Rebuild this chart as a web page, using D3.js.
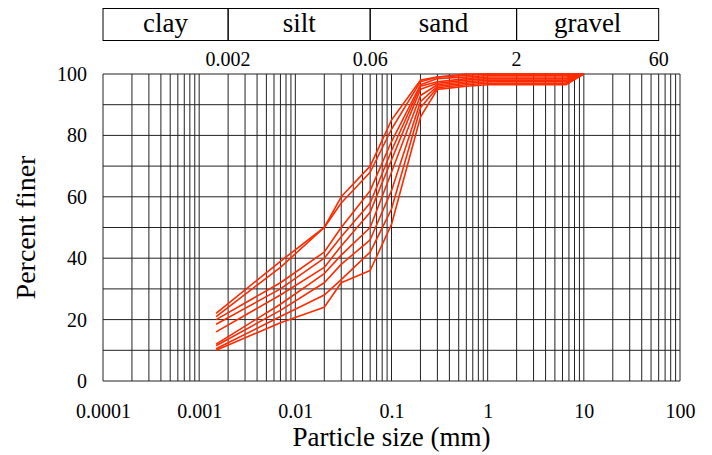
<!DOCTYPE html>
<html>
<head>
<meta charset="utf-8">
<script src="https://cdn.jsdelivr.net/npm/d3@7"></script>
<style>
  body { margin: 0; background: #fff; }
  text { font-family: "Liberation Serif", "DejaVu Serif", serif; fill: #000; }
</style>
</head>
<body>
<div id="chart"></div>
<script>

/// data

// particle sizes (mm) where the curves have their points
const sizes = [0.0015, 0.007, 0.02, 0.03, 0.06, 0.1, 0.2, 0.3, 0.6, 1, 6.5, 10];

// percent finer, one array per sample
const s1 = [22, 39, 50, 60, 70, 85, 98, 99, 100, 100, 100, 100];
const s2 = [21, 37, 50, 58, 68, 82, 97.5, 99, 99.5, 100, 100, 100];
const s3 = [20, 32, 42, 50, 62, 78, 96.5, 98.5, 99, 99.5, 99.5, 100];
const s4 = [18.5, 30, 40, 47, 58, 75, 96, 97.5, 98.5, 99, 99, 100];
const s5 = [16, 28, 37, 44, 55, 72, 95, 97, 98, 98.5, 98.5, 100];
const s6 = [12, 25, 35, 41, 50, 68, 93, 96.5, 97.5, 98, 98, 100];
const s7 = [11.5, 23, 32, 38, 46, 62, 91, 96, 97, 97.5, 97.5, 100];
const s8 = [10.5, 21, 28, 33, 42, 56, 89, 95.5, 96.5, 97, 97, 100];
const s9 = [10, 19, 24, 32, 36, 51, 86, 95, 96, 96.5, 96.5, 100];
const samples = [s1, s2, s3, s4, s5, s6, s7, s8, s9];

// soil classes (top band) and their limits in mm
const classes = ["clay", "silt", "sand", "gravel"];
const classLimits = [0.0001, 0.002, 0.06, 2, 60];
const topTicks = [0.002, 0.06, 2, 60];

const xTicks = [0.0001, 0.001, 0.01, 0.1, 1, 10, 100];
const yTicks = [0, 20, 40, 60, 80, 100];

///////////////////////////////////////////////////////////////////////////////

var width = 712;
var height = 455;

const margin = { top: 74, right: 32, bottom: 74, left: 103 };

var svg = d3.select("#chart").append("svg")
  .attr("width", width)
  .attr("height", height);

let x = d3.scaleLog()
  .domain([0.0001, 100])
  .range([margin.left, width - margin.right]);

let y = d3.scaleLinear()
  .domain([0, 100])
  .range([height - margin.bottom, margin.top]);

// vertical grid, every 1..9 x 10^k
let minor = [];
for (let e = -4; e < 2; e++) {
  for (let m = 1; m < 10; m++) minor.push(m * Math.pow(10, e));
}
minor.push(100);

svg.append("g")
  .attr("class", "vgrid")
  .selectAll("line")
  .data(minor)
  .enter()
  .append("line")
  .attr("x1", d => x(d))
  .attr("x2", d => x(d))
  .attr("y1", y(0))
  .attr("y2", y(100))
  .style("stroke", "#222")
  .style("stroke-width", 1);

// horizontal grid every 10 %
svg.append("g")
  .attr("class", "hgrid")
  .selectAll("line")
  .data(d3.range(0, 101, 10))
  .enter()
  .append("line")
  .attr("x1", x(0.0001))
  .attr("x2", x(100))
  .attr("y1", d => y(d))
  .attr("y2", d => y(d))
  .style("stroke", "#222")
  .style("stroke-width", 1);

// bottom axis labels
let xAxis = d3.axisBottom(x)
  .tickValues(xTicks)
  .tickSize(0)
  .tickPadding(23)
  .tickFormat(d => d3.format("~g")(d));

svg.append("g")
  .attr("transform", `translate(0, ${y(0)})`)
  .call(xAxis)
  .call(g => g.select(".domain").remove())
  .selectAll("text")
  .style("font-family", "Liberation Serif")
  .style("font-size", "20px");

// left axis labels
let yAxis = d3.axisLeft(y)
  .tickValues(yTicks)
  .tickSize(0)
  .tickPadding(16);

svg.append("g")
  .attr("transform", `translate(${x(0.0001)}, 0)`)
  .call(yAxis)
  .call(g => g.select(".domain").remove())
  .selectAll("text")
  .style("font-family", "Liberation Serif")
  .style("font-size", "20px");

// top axis labels at the class limits
svg.append("g")
  .selectAll("text")
  .data(topTicks)
  .enter()
  .append("text")
  .attr("x", d => x(d))
  .attr("y", 66)
  .style("text-anchor", "middle")
  .style("font-size", "20px")
  .text(d => d);

// class band
let band = svg.append("g").attr("class", "band");

band.selectAll("rect")
  .data(classes)
  .enter()
  .append("rect")
  .attr("x", (d, i) => x(classLimits[i]))
  .attr("y", 8.5)
  .attr("width", (d, i) => x(classLimits[i + 1]) - x(classLimits[i]))
  .attr("height", 32)
  .style("fill", "none")
  .style("stroke", "#000")
  .style("stroke-width", 1);

band.selectAll("text")
  .data(classes)
  .enter()
  .append("text")
  .attr("x", (d, i) => (x(classLimits[i]) + x(classLimits[i + 1])) / 2)
  .attr("y", 32)
  .style("text-anchor", "middle")
  .style("font-size", "27px")
  .text(d => d);

// the curves
let line = d3.line()
  .x((d, i) => x(sizes[i]))
  .y(d => y(d));

svg.append("g")
  .attr("class", "curves")
  .selectAll("path")
  .data(samples)
  .enter()
  .append("path")
  .attr("d", d => line(d))
  .style("fill", "none")
  .style("stroke", "#ff2a00")
  .style("stroke-width", 1.6)
  .style("stroke-linejoin", "round");

// axis titles
svg.append("text")
  .attr("x", (x(0.0001) + x(100)) / 2)
  .attr("y", 446)
  .style("text-anchor", "middle")
  .style("font-size", "27px")
  .text("Particle size (mm)");

svg.append("text")
  .attr("transform", `translate(35, ${(y(0) + y(100)) / 2}) rotate(-90)`)
  .style("text-anchor", "middle")
  .style("font-size", "28px")
  .text("Percent finer");

</script>
</body>
</html>
